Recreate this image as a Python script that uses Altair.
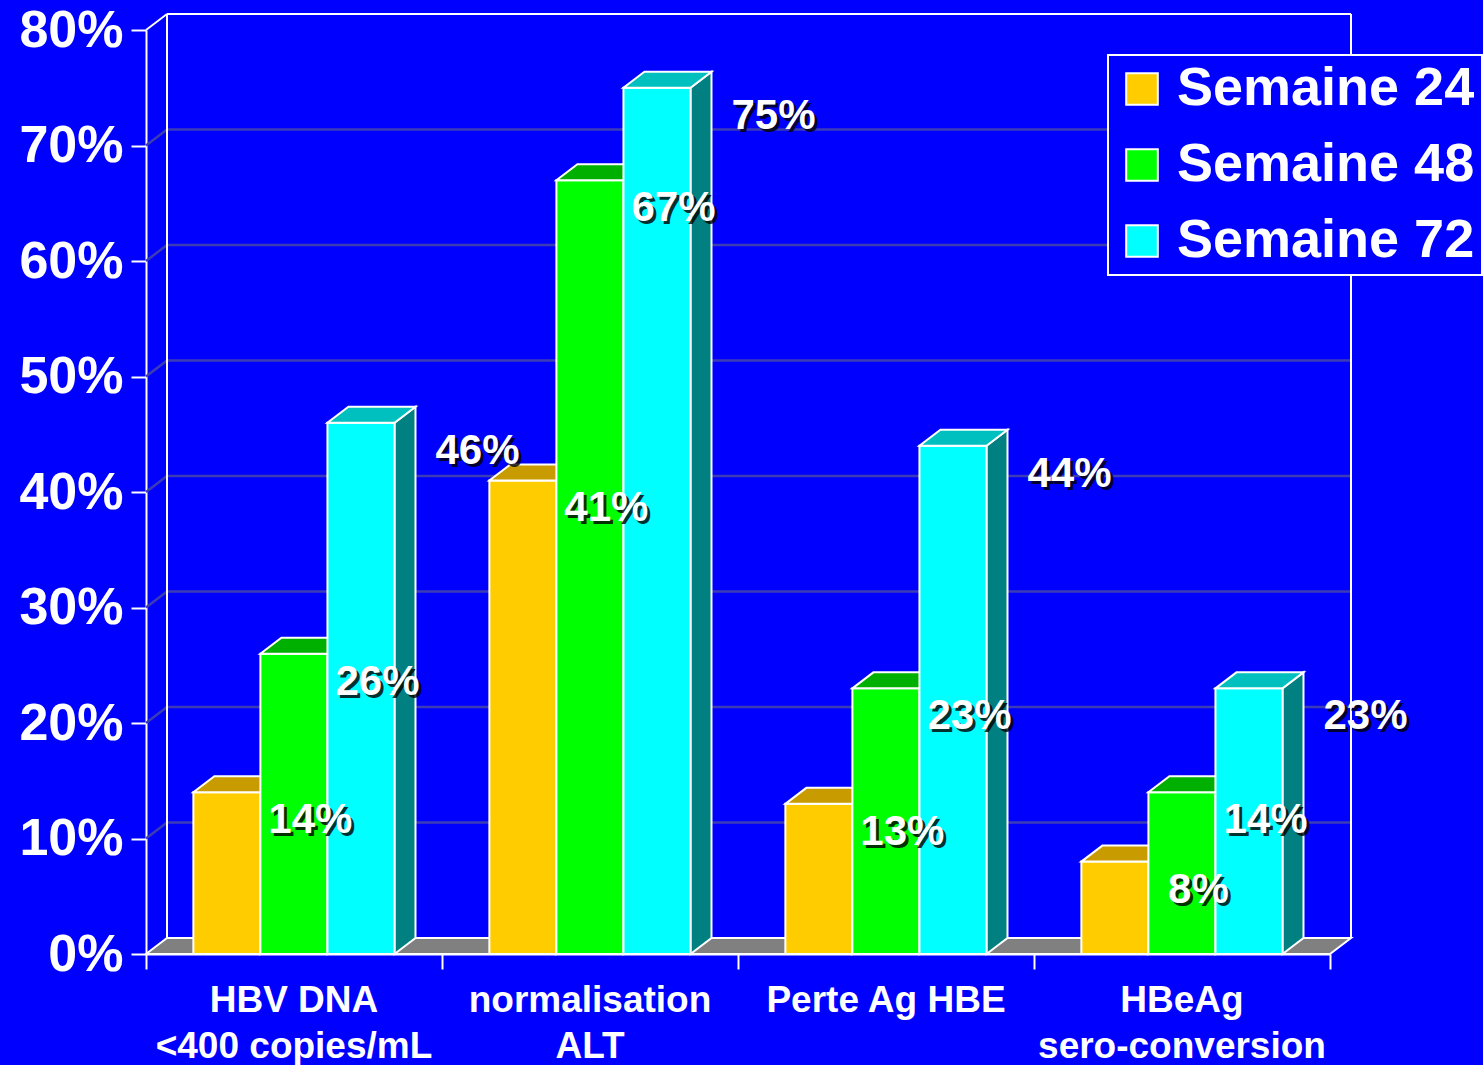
import altair as alt
import pandas as pd

# ---- data -------------------------------------------------------------
categories = ["HBV DNA\n<400 copies/mL", "normalisation\nALT", "Perte Ag HBE", "HBeAg\nsero-conversion"]
series = ["Semaine 24", "Semaine 48", "Semaine 72"]
week24 = [14, 41, 13, 8]
week48 = [26, 67, 23, 14]
week72 = [46, 75, 44, 23]
y_ticks = [0, 10, 20, 30, 40, 50, 60, 70, 80]

# ---- styling / layout ---------------------------------------------------
front_colors = ["#FFCC00", "#00FF00", "#00FFFF"]
top_colors = ["#C89B00", "#00B000", "#00BFBF"]
side_colors = ["#9A7800", "#008000", "#008080"]
BG = "#0000FF"
GRID = "#3C3CB4"
FONT = "Liberation Sans"

W, H = 1184, 924
N = len(categories)
YMAX = 80
DX = 21 * N / W        # depth of the pseudo-3D box, horizontal (x units)
DY = 16 * YMAX / H     # depth of the pseudo-3D box, vertical (y units)
INSET = 0.16           # first bar offset inside a category
BW = 0.2265            # bar width in category units
LABEL_SHIFT_PX = [50, 50, 83]

values = [week24, week48, week72]

bars, tops, sides = [], [], []
for j, s in enumerate(series):
    for i, c in enumerate(categories):
        v = values[j][i]
        x0 = i + INSET + j * BW
        x1 = x0 + BW
        key = f"{i}-{j}"
        bars.append(dict(cat=c, series=s, sidx=j, value=v, x0=x0, x1=x1,
                         lx=x1 + LABEL_SHIFT_PX[j] * N / W, label=f"{v}%"))
        for x, lo, hi in [(x0, v, v), (x0 + DX, v, v + DY), (x1, v, v + DY), (x1 + DX, v + DY, v + DY)]:
            tops.append(dict(key=key, sidx=j, x=x, y=lo, y2=hi))
        for x, lo, hi in [(x1, 0, v), (x1 + DX, DY, v + DY)]:
            sides.append(dict(key=key, sidx=j, x=x, y=lo, y2=hi))

bars = pd.DataFrame(bars)
tops = pd.DataFrame(tops)
sides = pd.DataFrame(sides)

floor = pd.DataFrame(dict(x=[0, DX, N, N + DX], y=[0, 0, 0, DY], y2=[0, DY, DY, DY]))

inner = y_ticks[1:-1]
grid_h = pd.DataFrame(dict(x=[DX] * len(inner), x2=[N + DX] * len(inner),
                           y=[t + DY for t in inner], y2=[t + DY for t in inner]))
grid_d = pd.DataFrame(dict(x=[0] * len(inner), x2=[DX] * len(inner),
                           y=inner, y2=[t + DY for t in inner]))
walls = pd.DataFrame(dict(
    x=[DX, N + DX, DX, 0],
    x2=[DX, N + DX, N + DX, DX],
    y=[DY, DY, YMAX + DY, YMAX],
    y2=[YMAX + DY, YMAX + DY, YMAX + DY, YMAX + DY],
))
cat_df = pd.DataFrame(dict(x=[i + 0.5 for i in range(N)], y=[0] * N, label=categories))

xs = alt.Scale(domain=[0, N], nice=False, zero=False)
ys = alt.Scale(domain=[0, YMAX], nice=False, zero=False)

x_axis = alt.Axis(values=list(range(N + 1)), labels=False, title=None, grid=False,
                  domainColor="white", domainWidth=2, tickColor="white", tickWidth=2, tickSize=15)
y_axis = alt.Axis(values=y_ticks, labelExpr="datum.value + '%'", title=None, grid=False,
                  domainColor="white", domainWidth=2, tickColor="white", tickWidth=2, tickSize=15,
                  labelFont=FONT, labelFontSize=52, labelFontWeight="bold", labelColor="white",
                  labelPadding=8)


def X(field):
    return alt.X(field, type="quantitative", scale=xs, axis=x_axis)


def Y(field):
    return alt.Y(field, type="quantitative", scale=ys, axis=y_axis)


floor_layer = alt.Chart(floor).mark_area(color="#808080", stroke="white", strokeWidth=2).encode(
    x=X("x"), y=Y("y"), y2="y2:Q",
)

grid_layer = alt.layer(
    alt.Chart(grid_h).mark_rule(color=GRID, strokeWidth=2.5),
    alt.Chart(grid_d).mark_rule(color=GRID, strokeWidth=2.5),
).encode(x=X("x"), x2="x2:Q", y=Y("y"), y2="y2:Q")

wall_layer = alt.Chart(walls).mark_rule(color="white", strokeWidth=2).encode(
    x=X("x"), x2="x2:Q", y=Y("y"), y2="y2:Q",
)

legend = alt.Legend(title=None, orient="none", legendX=962, legendY=25,
                    labelFont=FONT, labelFontSize=54, labelFontWeight="bold", labelColor="white",
                    labelLimit=600, symbolType="square", symbolSize=1000,
                    symbolStrokeColor="white", symbolStrokeWidth=2, symbolOpacity=1,
                    fillColor=BG, strokeColor="white", padding=7, rowPadding=22, labelOffset=8)

bar_layers = []
for j, s in enumerate(series):
    front = alt.Chart(bars).transform_filter(alt.datum.sidx == j).mark_rect(
        stroke="white", strokeWidth=2
    ).encode(
        x=X("x0"), x2="x1:Q",
        y=Y("value"), y2=alt.datum(0),
        color=alt.Color("series:N", scale=alt.Scale(domain=series, range=front_colors), legend=legend),
    )
    top = alt.Chart(tops).transform_filter(alt.datum.sidx == j).mark_area(
        color=top_colors[j], stroke="white", strokeWidth=2
    ).encode(x=X("x"), y=Y("y"), y2="y2:Q", detail="key:N")
    side = alt.Chart(sides).transform_filter(alt.datum.sidx == j).mark_area(
        color=side_colors[j], stroke="white", strokeWidth=2
    ).encode(x=X("x"), y=Y("y"), y2="y2:Q", detail="key:N")
    bar_layers += [side, front, top]

label_base = alt.Chart(bars).encode(x=X("lx"), y=Y("value"), text="label:N")
label_shadow = label_base.mark_text(font=FONT, fontSize=42, fontWeight="bold", color="black",
                                    opacity=0.8, align="center", baseline="middle", dx=3, dy=31)
label_text = label_base.mark_text(font=FONT, fontSize=42, fontWeight="bold", color="white",
                                  align="center", baseline="middle", dy=28)

cat_labels = alt.Chart(cat_df).mark_text(
    font=FONT, fontSize=37, fontWeight="bold", color="white", align="center",
    baseline="alphabetic", lineBreak="\n", lineHeight=46, dy=58
).encode(x=X("x"), y=Y("y"), text="label:N")

chart = alt.layer(
    floor_layer, grid_layer, wall_layer, *bar_layers, label_shadow, label_text, cat_labels
).properties(
    width=W, height=H,
    autosize=alt.AutoSizeParams(type="none"),
    padding={"left": 146, "top": 30, "right": 153, "bottom": 111},
).configure(
    background=BG, font=FONT,
).configure_view(
    stroke=None,
).configure_legend(
    strokeWidth=2,
)

chart.save("out.html", embed_options={"renderer": "svg", "actions": False})
